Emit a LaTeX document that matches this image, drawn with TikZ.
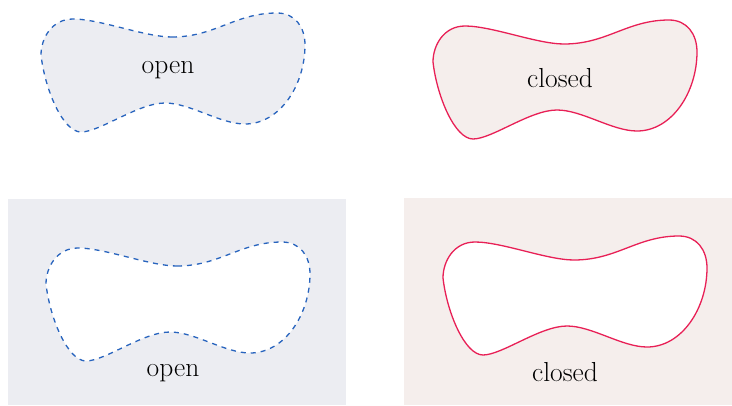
\documentclass[tikz,border=0pt]{standalone}
\begin{document}
\begin{tikzpicture}[x=1pt,y=-1pt,
  openline/.style={draw=openblue,line width=1.3pt,dash pattern=on 5pt off 5pt},
  closedline/.style={draw=closedred,line width=1.3pt},
  lbl/.style={font=\fontsize{27.5}{32}\selectfont,text=black,inner sep=0pt}]
\definecolor{openblue}{RGB}{40,100,190}
\definecolor{closedred}{RGB}{232,32,86}
\definecolor{openfill}{RGB}{236,237,242}
\definecolor{closedfill}{RGB}{245,238,236}
\useasboundingbox (0,0) rectangle (732,405);
\def\blob{(172,37) .. controls (215,37) and (235,13) .. (277,13)
  .. controls (295,13) and (305,27) .. (305,45)
  .. controls (305,85) and (280,124) .. (245,124)
  .. controls (220,124) and (190,103) .. (165,103)
  .. controls (138,103) and (100,132) .. (81,132)
  .. controls (63,132) and (45,90) .. (41,55)
  .. controls (41,38) and (52,19) .. (73,19)
  .. controls (100,19) and (145,37) .. (172,37) -- cycle}
% top-left
\begin{scope}
\fill[openfill] \blob;
\draw[openline] \blob;
\node[lbl] (o1) at (168,70) {open};
\end{scope}
% top-right
\begin{scope}[shift={(392,7)}]
\fill[closedfill] \blob;
\draw[closedline] \blob;
\node[lbl] (c1) at (168,71) {closed};
\end{scope}
% bottom-left
\fill[openfill] (8,199) rectangle (346,405);
\begin{scope}[shift={(5,229)}]
\fill[white] \blob;
\draw[openline] \blob;
\end{scope}
\node[lbl] (o2) at (173,373) {open};
% bottom-right
\fill[closedfill] (404,198) rectangle (732,405);
\begin{scope}[shift={(402,223)}]
\fill[white] \blob;
\draw[closedline] \blob;
\end{scope}
\node[lbl] (c2) at (565,372) {closed};
\end{tikzpicture}
\end{document}
